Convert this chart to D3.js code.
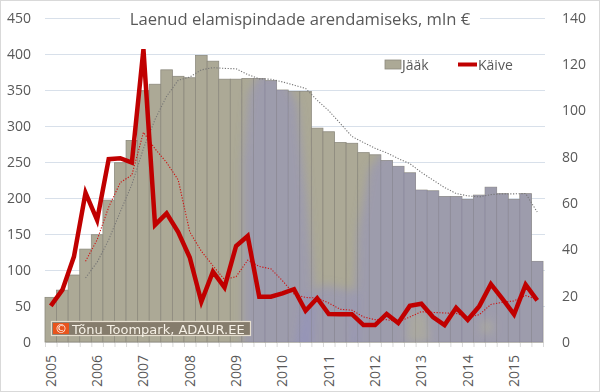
<!DOCTYPE html>
<html>
<head>
<meta charset="utf-8" />
<script src="https://cdn.jsdelivr.net/npm/d3@7"></script>
<style>
  body { margin: 0; background: #fff; }
  svg { display: block; font-family: "Open Sans", sans-serif; }
</style>
</head>
<body>
<svg id="chart" width="600" height="392"></svg>
<script>
// quarters 2005Q1 .. 2015Q3
const years = ["2005","2006","2007","2008","2009","2010","2011","2012","2013","2014","2015"];
const quarters = d3.range(43).map(i => years[Math.floor(i / 4)] + "Q" + (i % 4 + 1));

// Jääk, mln € (left axis)
const jaak = [62, 72, 93, 129, 149, 197, 249, 280, 349, 358, 378, 369, 367, 398, 390, 365,
              365, 366, 366, 363, 350, 348, 348, 297, 292, 277, 276, 263, 260, 252, 244, 235,
              211, 210, 202, 202, 198, 204, 215, 206, 198, 206, 112];

// Käive, mln € (right axis)
const kaive = [15.6, 22.5, 36.9, 64.5, 52.7, 79, 79.4, 77.5, 126.5, 50.6, 55.6, 47.5, 36.5, 17.4, 30.4, 23.6,
               41.5, 45.8, 19.6, 19.6, 21, 22.8, 13.5, 18.9, 12.1, 12, 12, 7.3, 7.3, 12.1, 8.2, 15.6,
               16.5, 10.8, 7.3, 14.8, 9.6, 15.5, 25, 18.6, 11.9, 24.8, 18];

const leftTicks = [0, 50, 100, 150, 200, 250, 300, 350, 400, 450];
const rightTicks = [0, 20, 40, 60, 80, 100, 120, 140];

const svg = d3.select("#chart");
const W = 600, H = 392;
const pLeft = 45, pRight = 543, pTop = 18, pBottom = 342;

const barFill = "#aca996", barStroke = "#8d8a7e";
const red = "#c00000";

const x = d3.scaleBand().domain(quarters).range([pLeft, pRight]).padding(0);
const xi = i => pLeft + x.step() * i;   // position by (fractional) index
const yL = d3.scaleLinear().domain([0, 450]).range([pBottom, pTop]);
const yR = d3.scaleLinear().domain([0, 140]).range([pBottom, pTop]);

// 4-quarter moving average (trendline)
const movAvg = arr => arr.map((v, i) => i < 3 ? null : d3.mean(arr.slice(i - 3, i + 1)));

// frame
svg.append("rect").attr("x", 0.5).attr("y", 0.5).attr("width", W - 1).attr("height", H - 1)
  .attr("fill", "#fff").attr("stroke", "#d9d9d9");

// gridlines
svg.append("g").selectAll("line").data(leftTicks.slice(1)).join("line")
  .attr("x1", pLeft).attr("x2", pRight + 2)
  .attr("y1", d => yL(d) + 0.5).attr("y2", d => yL(d) + 0.5)
  .attr("stroke", "#d8e0ea").attr("stroke-width", 1);

// axis line and minor ticks
svg.append("line").attr("x1", pLeft).attr("x2", pRight).attr("y1", pBottom + 0.5).attr("y2", pBottom + 0.5)
  .attr("stroke", "#d9d9d9");
svg.append("g").selectAll("line").data(d3.range(44)).join("line")
  .attr("x1", i => xi(i) + 0.5).attr("x2", i => xi(i) + 0.5)
  .attr("y1", pBottom).attr("y2", pBottom + 5).attr("stroke", "#d9d9d9");

// bars
const data = quarters.map((q, i) => ({ q, i, jaak: jaak[i], kaive: kaive[i] }));
svg.append("g").selectAll("rect").data(data).join("rect")
  .attr("x", d => x(d.q)).attr("y", d => yL(d.jaak))
  .attr("width", x.bandwidth()).attr("height", d => yL(0) - yL(d.jaak))
  .attr("fill", barFill).attr("stroke", barStroke).attr("stroke-width", 0.8);

// soft purple tint behind the later bars
const defs = svg.append("defs");
const clip = defs.append("clipPath").attr("id", "barsClip");
clip.selectAll("rect").data(data).join("rect")
  .attr("x", d => x(d.q)).attr("y", d => yL(d.jaak))
  .attr("width", x.bandwidth()).attr("height", d => yL(0) - yL(d.jaak));
defs.append("filter").attr("id", "blur").attr("x", "-20%").attr("y", "-20%").attr("width", "140%").attr("height", "140%")
  .append("feGaussianBlur").attr("stdDeviation", 5);

const blobs = [
  [[17.1, -20], [17.1, 250], [17.6, 345], [18.5, 372], [20.5, 372], [21.8, 330], [22.6, 200], [23.2, 80], [23, -20]],
  [[26.5, -20], [27, 150], [28, 240], [30, 280], [44, 280], [44, -20]],
  [[21.5, -20], [22.5, 60], [24, 80], [27, 70], [27, -20]]
];
const holes = [
  [[31.2, 0], [31.4, 40], [33, 42], [33.2, 0]],
  [[37.6, 12], [37.7, 30], [38.6, 30], [38.6, 12]]
];
const blobLine = d3.line().x(d => xi(d[0])).y(d => yL(d[1]));
const tint = svg.append("g").attr("clip-path", "url(#barsClip)").append("g").attr("filter", "url(#blur)");
tint.selectAll("path.b").data(blobs).join("path").attr("class", "b")
  .attr("d", d => blobLine(d) + "Z").attr("fill", "#8b8bc8").attr("opacity", 0.45);
tint.selectAll("path.h").data(holes).join("path").attr("class", "h")
  .attr("d", d => blobLine(d) + "Z").attr("fill", "#b4b398").attr("opacity", 0.6);

// trendlines
const maJ = movAvg(jaak), maK = movAvg(kaive);
const lineJ = d3.line().defined(d => d != null).x((d, i) => x(quarters[i]) + x.bandwidth() / 2).y(d => yL(d));
const lineK = d3.line().defined(d => d != null).x((d, i) => x(quarters[i]) + x.bandwidth() / 2).y(d => yR(d));
svg.append("path").datum(maJ).attr("d", lineJ).attr("fill", "none")
  .attr("stroke", "#767676").attr("stroke-width", 1.1).attr("stroke-dasharray", "1.2 1.6");
svg.append("path").datum(maK).attr("d", lineK).attr("fill", "none")
  .attr("stroke", "#d01010").attr("stroke-width", 1.1).attr("stroke-dasharray", "1.2 1.6");

// Käive
svg.append("path").datum(kaive).attr("d", lineK).attr("fill", "none")
  .attr("stroke", red).attr("stroke-width", 4.5).attr("stroke-linejoin", "miter");

// watermark
const wm = svg.append("g");
wm.append("rect").attr("x", 51.5).attr("y", 321.5).attr("width", 199).attr("height", 14)
  .attr("fill", "#857c6c").attr("stroke", "#e6dfcf").attr("stroke-width", 1.2);
wm.append("rect").attr("x", 53).attr("y", 323).attr("width", 16).attr("height", 11).attr("fill", "#e8541c");
wm.append("text").attr("x", 61).attr("y", 333).attr("text-anchor", "middle")
  .attr("fill", "#fff").attr("font-family", "DejaVu Sans").attr("font-size", 12).text("©");
wm.append("text").attr("x", 72).attr("y", 333.5)
  .attr("fill", "#f6f1e6").attr("font-family", "DejaVu Sans").attr("font-size", 13)
  .text("Tõnu Toompark, ADAUR.EE");

// left axis labels
svg.append("g").selectAll("text").data(leftTicks).join("text")
  .attr("x", 31).attr("y", d => yL(d)).attr("dy", "0.35em").attr("text-anchor", "end")
  .attr("font-size", 14).attr("fill", "#595959").text(d => d);

// right axis labels
svg.append("g").selectAll("text").data(rightTicks).join("text")
  .attr("x", 562).attr("y", d => yR(d)).attr("dy", "0.35em").attr("text-anchor", "start")
  .attr("font-size", 14).attr("fill", "#595959").text(d => d);

// x labels (first quarter of each year)
svg.append("g").selectAll("text").data(years).join("text")
  .attr("transform", d => `translate(${x(d + "Q1") + x.bandwidth() / 2 + 5},355) rotate(-90)`)
  .attr("text-anchor", "end").attr("font-size", 14).attr("fill", "#595959").text(d => d);

// title
const title = svg.append("g");
title.append("rect").attr("x", 120).attr("y", 6).attr("width", 360).attr("height", 24).attr("fill", "#fff");
title.append("text").attr("x", 300).attr("y", 25).attr("text-anchor", "middle")
  .attr("font-size", 16.6).attr("fill", "#595959").text("Laenud elamispindade arendamiseks, mln €");

// legend
const lg = svg.append("g");
lg.append("rect").attr("x", 385).attr("y", 60).attr("width", 16).attr("height", 9)
  .attr("fill", barFill).attr("stroke", barStroke).attr("stroke-width", 0.8);
lg.append("text").attr("x", 402).attr("y", 69.5).attr("font-size", 14).attr("fill", "#595959").text("Jääk");
lg.append("line").attr("x1", 458).attr("x2", 477).attr("y1", 64.5).attr("y2", 64.5)
  .attr("stroke", red).attr("stroke-width", 4);
lg.append("text").attr("x", 478).attr("y", 69.5).attr("font-size", 14).attr("fill", "#595959").text("Käive");
</script>
</body>
</html>
